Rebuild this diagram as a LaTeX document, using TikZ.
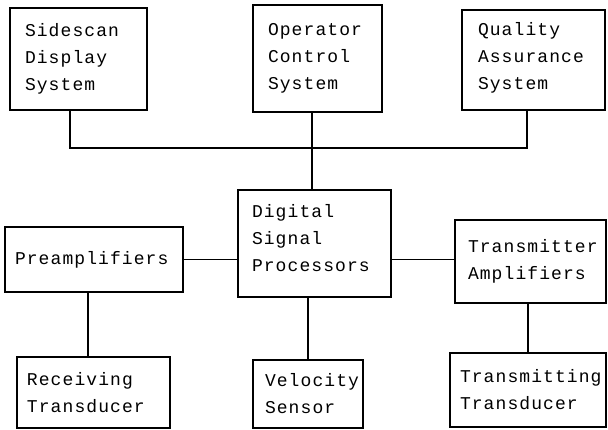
\documentclass[tikz,border=0pt]{standalone}
\usepackage{fontspec}
\newfontfamily\boxfont[LetterSpace=6]{Liberation Mono}
\begin{document}
\begin{tikzpicture}[x=1pt,y=-1pt,
  box/.style={draw, line width=1.1pt, align=left, inner ysep=0pt,
    font=\boxfont\fontsize{18}{27}\selectfont},
  link/.style={line width=1.1pt}]
\useasboundingbox (0,0) rectangle (608,429);
% top row
\node[box, inner xsep=15pt, text width=107pt, minimum height=102pt] (sds) at (78.5,59) {Sidescan\\Display\\System};
\node[box, inner xsep=15pt, text width=99pt, minimum height=107pt] (ocs) at (317.5,58.5) {Operator\\Control\\System};
\node[box, inner xsep=16pt, text width=111pt, minimum height=100pt] (qas) at (533.5,60) {Quality\\Assurance\\System\rule[-9pt]{0pt}{0pt}};
% middle row
\node[box, inner xsep=14pt, text width=125pt, minimum height=107pt] (dsp) at (314.5,243.5) {Digital\\Signal\\Processors\rule[-12pt]{0pt}{0pt}};
\node[box, inner xsep=10pt, text width=158pt, minimum height=65pt] (pre) at (94,259.5) {Preamplifiers};
\node[box, inner xsep=13pt, text width=125pt, minimum height=83pt] (tra) at (530.5,261.5) {Transmitter\\Amplifiers};
% bottom row
\node[box, inner xsep=10pt, text width=133pt, minimum height=71pt] (rec) at (93.5,392.5) {Receiving\\Transducer};
\node[box, inner xsep=12pt, text width=86pt, minimum height=68pt] (vel) at (308,394) {Velocity\\Sensor};
\node[box, inner xsep=10pt, text width=136pt, minimum height=74pt] (trn) at (528,390) {Transmitting\\Transducer};
% connectors
\coordinate (bus) at (312,148);
\draw[link] ([xshift=-8.5pt]sds.south) |- (bus) -| ([xshift=-6.5pt]qas.south);
\draw[link] (bus |- ocs.south) -- (bus |- dsp.north);
\draw[link] (pre.east) -- (pre.east -| dsp.west);
\draw[link] (pre.east -| dsp.east) -- (pre.east -| tra.west);
\draw[link] ([xshift=-6pt]pre.south) -- ([xshift=-6pt]pre.south |- rec.north);
\draw[link] (vel.north |- dsp.south) -- (vel.north);
\draw[link] (trn.north |- tra.south) -- (trn.north);
\end{tikzpicture}
\end{document}
